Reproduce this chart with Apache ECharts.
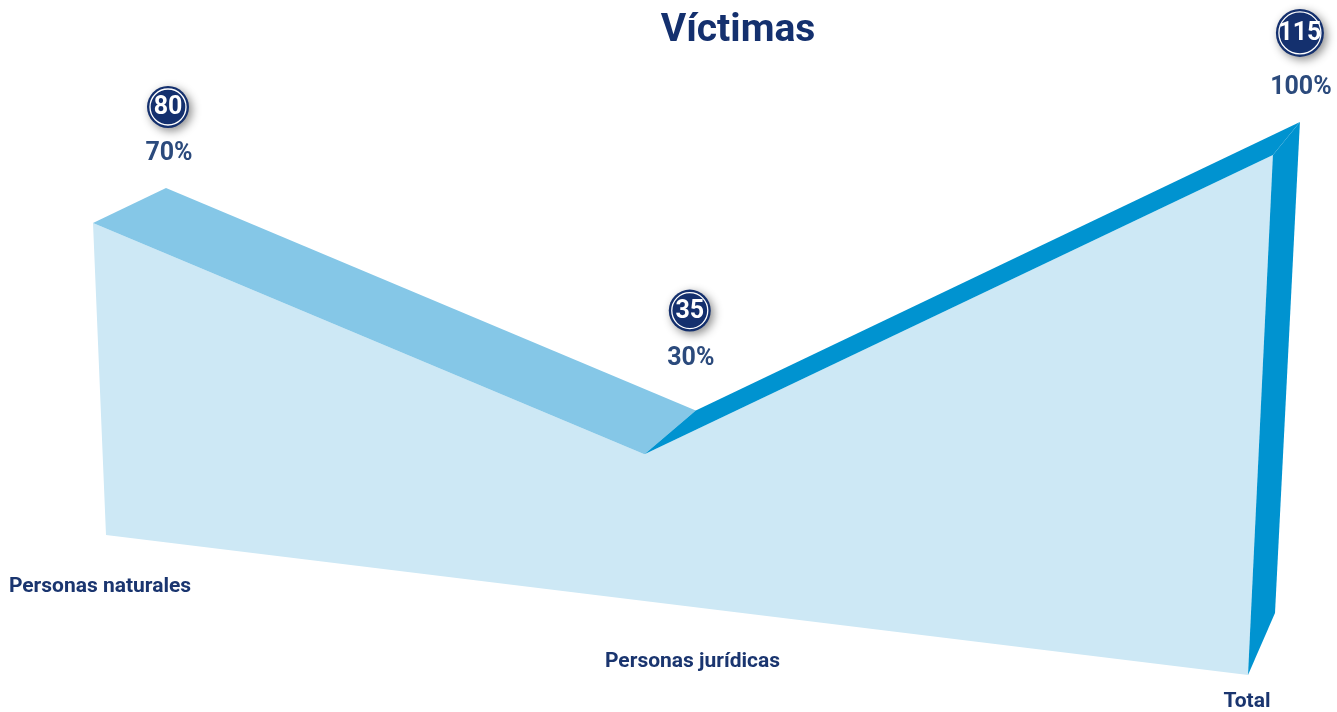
<!DOCTYPE html>
<html>
<head>
<meta charset="utf-8">
<script src="https://cdn.jsdelivr.net/npm/echarts@6/dist/echarts.min.js"></script>
<style>
html, body { margin: 0; background: #fff; }
#main { width: 1337px; height: 712px; }
</style>
</head>
<body>
<div id="main"></div>
<script>
// datos del gráfico
let categories = ['Personas naturales', 'Personas jurídicas', 'Total'],
    values = [80, 35, 115],
    percents = [70, 30, 100];

let yMax = 120;

// plano de perspectiva (frente y fondo), esquinas u/v normalizadas
let front = { p00: [106, 535], p10: [1248, 675], p01: [86.5, 67], p11: [1274, 132.4] },
    back  = { p00: [179, 500], p10: [1275, 613], p01: [159.5, 32], p11: [1301, 100.6] },
    bend = -0.116;

let navy = '#14306e',
    light = '#cde8f5',
    mid = '#85c7e7',
    dark = '#0093d0';

let font = 'Roboto, "Noto Sans", sans-serif';

function bilinear(pl, u, v) {
    let a = (1 - u) * (1 - v), b = u * (1 - v), c = (1 - u) * v, d = u * v;
    return [
        a * pl.p00[0] + b * pl.p10[0] + c * pl.p01[0] + d * pl.p11[0],
        a * pl.p00[1] + b * pl.p10[1] + c * pl.p01[1] + d * pl.p11[1]
    ];
}

function renderItem(params, api) {
    let n = categories.length,
        i = params.dataIndex,
        o = api.coord([0, 0]),
        c = api.coord([n - 1, yMax]);

    // coordenadas de la escala -> u/v
    let norm = (k, val) => {
        let p = api.coord([k, val]);
        return [(p[0] - o[0]) / (c[0] - o[0]), (o[1] - p[1]) / (o[1] - c[1])];
    };
    let proj = (k, val, pl) => {
        let uv = norm(k, val), u = uv[0];
        u = u + bend * u * (1 - u);
        return bilinear(pl, u, uv[1]);
    };

    let children = [];

    if (i === 0) {
        let pts = values.map((v, k) => proj(k, v, front));
        pts.push(proj(n - 1, 0, front), proj(0, 0, front));
        children.push({ type: 'polygon', shape: { points: pts }, style: { fill: light } });
    }

    if (i < n - 1) {
        let pts = [proj(i, values[i], front), proj(i + 1, values[i + 1], front),
                   proj(i + 1, values[i + 1], back), proj(i, values[i], back)];
        children.push({ type: 'polygon', shape: { points: pts },
            style: { fill: values[i + 1] < values[i] ? mid : dark } });
    } else {
        let pts = [proj(i, values[i], front), proj(i, values[i], back),
                   proj(i, 0, back), proj(i, 0, front)];
        children.push({ type: 'polygon', shape: { points: pts }, style: { fill: dark } });
    }

    // insignia con el valor y porcentaje
    let u = norm(i, 0)[0],
        s = Math.sin(Math.PI * u),
        top = proj(i, values[i], back),
        txt = String(values[i]),
        r = txt.length > 2 ? 24 : 21,
        bx = top[0] + 2 - 7 * s - 2 * u,
        by = top[1] - (81 + 15 * s + 8 * u),
        py = top[1] - (34 + 18 * s);
    children.push({
        type: 'circle',
        shape: { cx: bx, cy: by, r: r },
        style: { fill: navy, shadowBlur: 10, shadowOffsetX: 3, shadowOffsetY: 3, shadowColor: 'rgba(0,0,0,0.45)' }
    }, {
        type: 'circle',
        shape: { cx: bx, cy: by, r: r - 3 },
        style: { fill: null, stroke: '#fff', lineWidth: 1.3 }
    }, {
        type: 'text',
        style: { text: txt, x: bx, y: by + 1, fill: '#fff', align: 'center', verticalAlign: 'middle',
            font: 'bold 25px ' + font }
    }, {
        type: 'text',
        style: { text: percents[i] + '%', x: bx + 1, y: py, fill: '#2b4a7c', align: 'center',
            verticalAlign: 'middle', font: 'bold 25px ' + font }
    });

    // etiqueta de categoría
    let base = bilinear(front, u, 0),
        dx = -6 + 19 * s + 5 * u,
        dy = 52 + 17.5 * s - 25 * u;
    children.push({
        type: 'text',
        style: { text: categories[i], x: base[0] + dx, y: base[1] + dy, fill: '#1a356f', align: 'center',
            verticalAlign: 'middle', font: 'bold 21px ' + font }
    });

    return { type: 'group', children: children };
}

let myChart = echarts.init(document.getElementById('main'));
myChart.setOption({
    animation: false,
    title: {
        text: 'Víctimas',
        left: 733,
        textAlign: 'center',
        top: 7,
        textStyle: { color: navy, fontSize: 39, fontWeight: 'bold', fontFamily: 'Roboto' }
    },
    grid: { left: 100, right: 100, top: 60, bottom: 100 },
    xAxis: { type: 'category', data: categories, boundaryGap: false, show: false },
    yAxis: { type: 'value', min: 0, max: yMax, show: false },
    series: [{
        type: 'custom',
        renderItem: renderItem,
        data: values.map((v, k) => [k, v]),
        clip: false
    }]
});
window.addEventListener('resize', () => myChart.resize());
</script>
</body>
</html>
